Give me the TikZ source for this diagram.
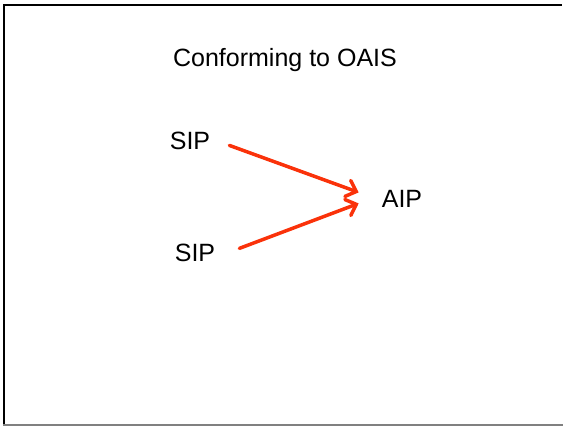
\documentclass[tikz,border=0pt]{standalone}
\usepackage{fontspec}
\setmainfont{Liberation Sans}
\usetikzlibrary{arrows.meta}
\definecolor{flowred}{RGB}{250,50,10}

\tikzset{
	pkg/.style={inner sep=0pt, anchor=base, font=\fontsize{25}{30}\selectfont},
	flow/.style={draw=flowred, line width=3.5pt, line cap=round,
		-{Straight Barb[length=9pt,width=17pt,line cap=round]}}
}

\begin{document}
\begin{tikzpicture}[x=1pt,y=-1pt]
	\useasboundingbox (0,0) rectangle (563,426);
	% slide frame
	\draw[line width=2pt] (4,425) -- (4,4.5) -- (562,4.5);
	\draw[gray, line width=1.5pt] (3,425) -- (563,425);

	\node[pkg] (title) at (285,66) {Conforming to OAIS};
	\node[pkg] (sipa) at (190,149) {SIP};
	\node[pkg] (sipb) at (195,261) {SIP};
	\node[pkg] (aip)  at (402,207) {AIP};

	\draw[flow] ([xshift=19pt,yshift=-5pt]sipa.east) -- ([xshift=-23pt,yshift=6pt]aip.west);
	\draw[flow] ([xshift=24pt,yshift=4pt]sipb.east) -- ([xshift=-23pt,yshift=-5pt]aip.west);
\end{tikzpicture}
\end{document}
